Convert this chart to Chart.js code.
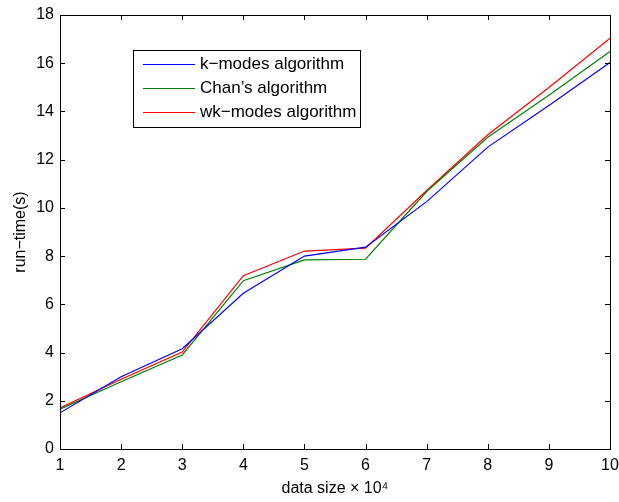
<!DOCTYPE html>
<html>
<head>
<meta charset="utf-8">
<script src="https://cdn.jsdelivr.net/npm/chart.js@4/dist/chart.umd.min.js"></script>
<style>
  html, body { margin: 0; padding: 0; background: #fff; }
  #wrap { width: 619px; height: 502px; }
</style>
</head>
<body>
<div id="wrap"><canvas id="runtimeChart" width="619" height="502"></canvas></div>
<script>
const dataSizes = [1, 2, 3, 4, 5, 6, 7, 8, 9, 10];
const kModes = [1.50, 3.00, 4.16, 6.46, 8.00, 8.37, 10.26, 12.52, 14.25, 16.03];
const chans = [1.65, 2.79, 3.90, 6.98, 7.84, 7.87, 10.68, 12.93, 14.67, 16.49];
const wkModes = [1.70, 2.89, 4.02, 7.19, 8.21, 8.33, 10.72, 13.03, 14.99, 17.04];
const seriesNames = ['k\u2212modes algorithm', 'Chan\u2019s algorithm', 'wk\u2212modes algorithm'];
const seriesColors = ['#0000ff', '#008000', '#ff0000'];
const yTicks = [0, 2, 4, 6, 8, 10, 12, 14, 16, 18];

Chart.defaults.font.family = '"Liberation Sans", Arial, sans-serif';
Chart.defaults.color = '#000';

function toPoints(vals) {
  return vals.map((v, i) => ({ x: dataSizes[i], y: v }));
}

// matlab style box with inward ticks + legend inside the axes
const matlabFrame = {
  id: 'matlabFrame',
  afterDraw(chart) {
    const { ctx, chartArea: a, scales } = chart;
    const tick = 5;
    ctx.save();
    ctx.strokeStyle = '#000';
    ctx.lineWidth = 1;
    ctx.strokeRect(Math.round(a.left) + 0.5, Math.round(a.top) + 0.5,
      Math.round(a.right - a.left), Math.round(a.bottom - a.top));
    ctx.beginPath();
    dataSizes.forEach(v => {
      const px = Math.round(scales.x.getPixelForValue(v)) + 0.5;
      ctx.moveTo(px, a.bottom); ctx.lineTo(px, a.bottom - tick);
      ctx.moveTo(px, a.top); ctx.lineTo(px, a.top + tick);
    });
    yTicks.forEach(v => {
      const py = Math.round(scales.y.getPixelForValue(v)) + 0.5;
      ctx.moveTo(a.left, py); ctx.lineTo(a.left + tick, py);
      ctx.moveTo(a.right, py); ctx.lineTo(a.right - tick, py);
    });
    ctx.stroke();

    // legend box
    const bx = 133.5, by = 50.5, bw = 227, bh = 77;
    ctx.fillStyle = '#fff';
    ctx.fillRect(bx, by, bw, bh);
    ctx.strokeRect(bx, by, bw, bh);
    ctx.font = '17px "Liberation Sans", Arial, sans-serif';
    ctx.textBaseline = 'middle';
    chart.data.datasets.forEach((ds, i) => {
      const ry = 64.5 + i * 24;
      ctx.strokeStyle = ds.borderColor;
      ctx.beginPath();
      ctx.moveTo(143, ry); ctx.lineTo(195, ry);
      ctx.stroke();
      ctx.fillStyle = '#000';
      ctx.fillText(ds.label, 200, ry);
    });
    ctx.restore();
  }
};

const ctx = document.getElementById('runtimeChart').getContext('2d');
new Chart(ctx, {
  type: 'line',
  data: {
    datasets: [kModes, chans, wkModes].map((vals, i) => ({
      label: seriesNames[i],
      data: toPoints(vals),
      borderColor: seriesColors[i],
      borderWidth: 1.2,
      pointRadius: 0,
      fill: false,
      tension: 0
    }))
  },
  options: {
    responsive: false,
    animation: false,
    layout: { padding: { left: 0, top: 15, right: 9, bottom: 0 } },
    plugins: {
      legend: { display: false },
      tooltip: { enabled: false }
    },
    scales: {
      x: {
        type: 'linear',
        min: 1,
        max: 10,
        afterFit: scale => {
          scale.height = 53;
          scale.paddingLeft = 0;
          scale.paddingRight = 0;
        },
        ticks: { stepSize: 1, padding: 7, font: { size: 16 }, maxRotation: 0 },
        grid: { drawOnChartArea: false, drawTicks: false },
        border: { display: false },
        title: {
          display: true,
          text: 'data size \u00d7 10\u2074',
          font: { size: 16 },
          padding: { top: 0, bottom: 4 }
        }
      },
      y: {
        min: 0,
        max: 18,
        afterFit: scale => {
          scale.width = 60;
          scale.paddingTop = 0;
          scale.paddingBottom = 0;
        },
        ticks: { stepSize: 2, padding: 6, font: { size: 16 } },
        grid: { drawOnChartArea: false, drawTicks: false },
        border: { display: false },
        title: {
          display: true,
          text: 'run\u2212time(s)',
          font: { size: 16 },
          padding: { top: 11, bottom: 0 }
        }
      }
    }
  },
  plugins: [matlabFrame]
});
</script>
</body>
</html>
